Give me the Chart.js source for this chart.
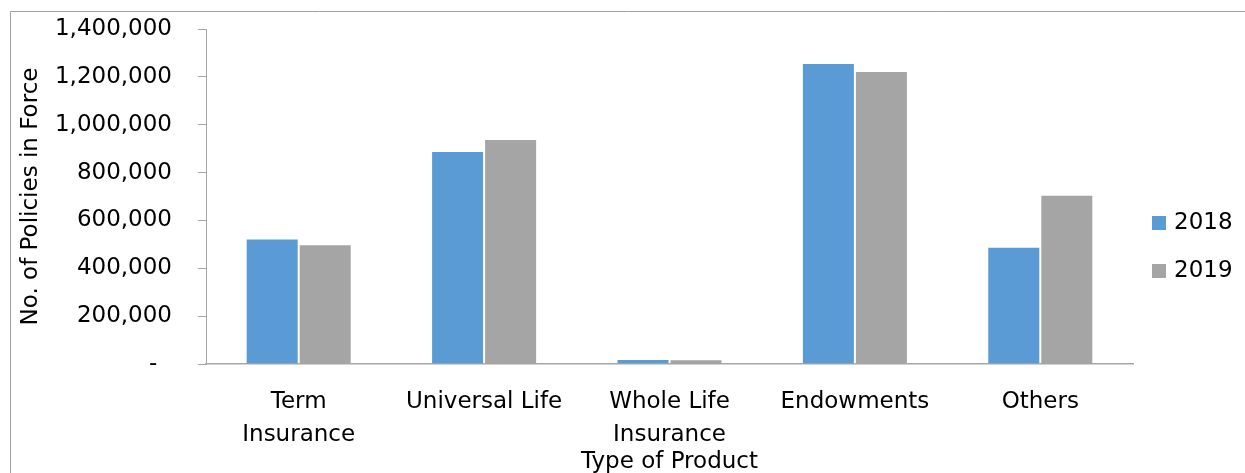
<!DOCTYPE html>
<html>
<head>
<meta charset="utf-8">
<script src="https://cdn.jsdelivr.net/npm/chart.js@4/dist/chart.umd.min.js"></script>
<style>
  html, body { margin: 0; padding: 0; background: #fff; overflow: hidden; }
  #wrap { width: 1245px; height: 473px; position: relative; }
</style>
</head>
<body>
<div id="wrap"><canvas id="c" width="1245" height="473"></canvas></div>
<script>
const categories = [["Term", "Insurance"], "Universal Life", ["Whole Life", "Insurance"], "Endowments", "Others"];
const seriesNames = ["2018", "2019"];
const values2018 = [525000, 890000, 21000, 1258000, 490000];
const values2019 = [500000, 940000, 20000, 1224000, 707000];
const yTickMax = 1400000;
const yTickStep = 200000;
const yAxisTitle = "No. of Policies in Force";
const xAxisTitle = "Type of Product";

const FONT = "'DejaVu Sans', sans-serif";
const AXIS_GRAY = "#a6a6a6";

const frameAndLegend = {
  id: 'frameAndLegend',
  beforeDraw(chart) {
    const ctx = chart.ctx;
    ctx.save();
    ctx.fillStyle = '#fff';
    ctx.fillRect(0, 0, chart.width, chart.height);
    ctx.strokeStyle = '#a0a0a0';
    ctx.lineWidth = 1;
    ctx.beginPath();
    ctx.moveTo(10.5, chart.height + 5);
    ctx.lineTo(10.5, 11.5);
    ctx.lineTo(chart.width + 5, 11.5);
    ctx.stroke();
    ctx.restore();
  },
  afterDraw(chart) {
    const ctx = chart.ctx;
    ctx.save();
    ctx.font = "23px " + FONT;
    ctx.textBaseline = 'middle';
    ctx.textAlign = 'left';
    const x0 = 1152, y0 = 223, gap = 48, box = 14;
    chart.data.datasets.forEach((ds, i) => {
      const cy = y0 + i * gap;
      ctx.fillStyle = ds.backgroundColor;
      ctx.fillRect(x0, cy - box / 2, box, box);
      ctx.fillStyle = '#000';
      ctx.fillText(ds.label, x0 + 22, cy);
    });
    ctx.restore();
  }
};

new Chart(document.getElementById('c'), {
  type: 'bar',
  data: {
    labels: categories,
    datasets: [
      { label: seriesNames[0], data: values2018, backgroundColor: '#5B9BD5', borderColor: 'rgba(255,255,255,0.35)', borderWidth: 1 },
      { label: seriesNames[1], data: values2019, backgroundColor: '#A5A5A5', borderColor: 'rgba(255,255,255,0.35)', borderWidth: 1 }
    ]
  },
  options: {
    responsive: false,
    animation: false,
    events: [],
    layout: { padding: { top: 29, right: 112, left: 0, bottom: 0 } },
    plugins: {
      legend: { display: false },
      tooltip: { enabled: false }
    },
    datasets: {
      bar: { categoryPercentage: 0.572, barPercentage: 1.0 }
    },
    scales: {
      x: {
        grid: { display: false, drawTicks: false },
        border: { display: true, color: AXIS_GRAY, width: 1.5 },
        ticks: {
          color: '#000',
          font: { family: FONT, size: 23, lineHeight: 1.45 },
          padding: 21,
          maxRotation: 0,
          autoSkip: false
        },
        title: {
          display: true,
          text: xAxisTitle,
          color: '#000',
          font: { family: FONT, size: 23, lineHeight: 1.2 },
          padding: { top: 0, bottom: -3 }
        },
        afterFit(scale) { scale.height = 109; }
      },
      y: {
        min: 0,
        max: yTickMax,
        grid: { drawOnChartArea: false, drawTicks: true, tickLength: 8, color: AXIS_GRAY },
        border: { display: true, color: AXIS_GRAY, width: 1 },
        ticks: {
          stepSize: yTickStep,
          color: '#000',
          font: { family: FONT, size: 23 },
          padding: 26,
          callback: (v) => v === 0 ? '-  ' : Number(v).toLocaleString('en-US')
        },
        title: {
          display: true,
          text: yAxisTitle,
          color: '#000',
          font: { family: FONT, size: 23, lineHeight: 1.2 },
          padding: { top: 17, bottom: 0 }
        },
        afterFit(scale) {
          scale.width = 206;
          scale.paddingTop = 0;
          scale.paddingBottom = 0;
        }
      }
    }
  },
  plugins: [frameAndLegend]
});
</script>
</body>
</html>
